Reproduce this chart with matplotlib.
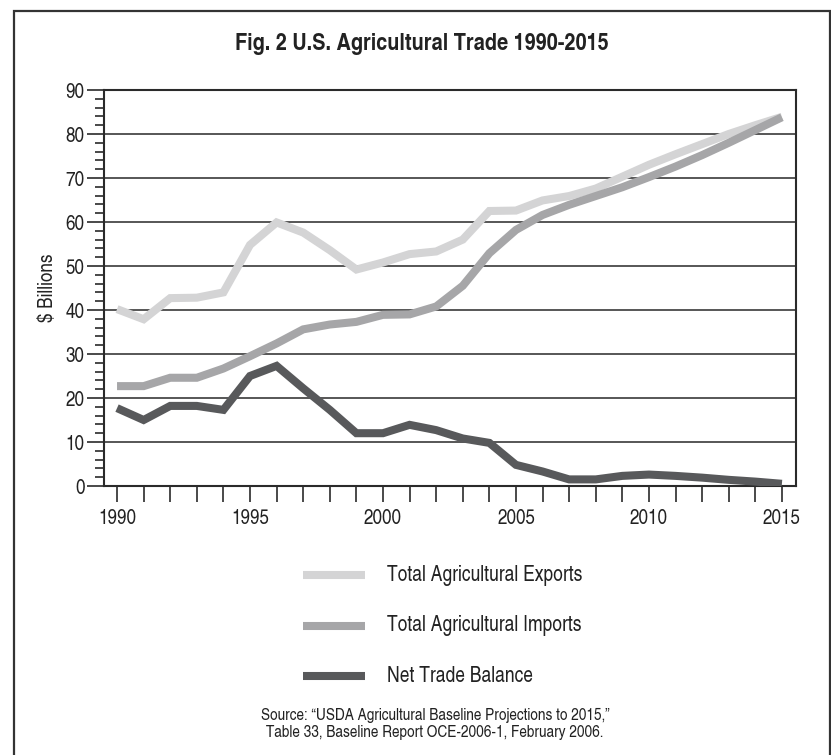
import matplotlib
matplotlib.use("Agg")
import matplotlib.pyplot as plt
from matplotlib.patches import Rectangle
from matplotlib.ticker import MultipleLocator, FixedLocator

plt.rcParams['font.family'] = ['TeX Gyre Heros Cn', 'Roboto Condensed', 'DejaVu Sans']

years = list(range(1990, 2016))
exports = [40.2, 37.9, 42.7, 42.8, 44.0, 54.8, 59.9, 57.6, 53.6, 49.2,
           50.8, 52.7, 53.3, 56.0, 62.5, 62.6, 64.9, 65.9, 67.6, 70.3,
           73.0, 75.4, 77.7, 80.0, 82.0, 83.9]
imports = [22.7, 22.7, 24.6, 24.6, 26.7, 29.5, 32.4, 35.6, 36.7, 37.3,
           38.9, 39.0, 40.8, 45.5, 52.9, 58.2, 61.6, 63.9, 65.9, 67.9,
           70.2, 72.6, 75.2, 78.0, 80.9, 83.8]
net_balance = [17.7, 15.0, 18.2, 18.2, 17.3, 25.0, 27.3, 22.2, 17.3, 12.0,
               12.0, 13.9, 12.7, 10.8, 9.8, 4.8, 3.3, 1.5, 1.5, 2.3,
               2.6, 2.3, 1.9, 1.4, 1.0, 0.5]

series_names = ["Total Agricultural Exports", "Total Agricultural Imports",
                "Net Trade Balance"]
series_colors = ["#d4d4d5", "#a6a6a8", "#58595b"]

title = "Fig. 2 U.S. Agricultural Trade 1990-2015"
source_lines = ["Source: \u201cUSDA Agricultural Baseline Projections to 2015,\u201d",
                "Table 33, Baseline Report OCE-2006-1, February 2006."]

W, H = 831, 755
fig = plt.figure(figsize=(W / 100, H / 100), dpi=100)
fig.patch.set_facecolor("white")

# outer frame around the whole figure (open at the bottom edge)
fig.patches.append(Rectangle((14 / W, -0.02), (830 - 14) / W, 1.02 - 11 / H,
                             transform=fig.transFigure, fill=False,
                             edgecolor="#333333", linewidth=1.6))

ax = fig.add_axes([104 / W, 1 - 486 / H, (796 - 104) / W, (486 - 90) / H])

lw = 5.8
for vals, name, col in zip([exports, imports, net_balance], series_names, series_colors):
    ax.plot(years, vals, color=col, linewidth=lw, solid_capstyle="butt",
            solid_joinstyle="miter", zorder=3, label=name)

ax.set_xlim(1989.51, 2015.53)
ax.set_ylim(0, 90)

ax.yaxis.set_major_locator(MultipleLocator(10))
ax.yaxis.set_minor_locator(MultipleLocator(2))
ax.xaxis.set_major_locator(FixedLocator([1990, 1995, 2000, 2005, 2010, 2015]))
ax.xaxis.set_minor_locator(FixedLocator(years))

ax.grid(axis="y", which="major", color="#3a3a3a", linewidth=1.2, zorder=1)
for s in ax.spines.values():
    s.set_color("#2a2a2a")
    s.set_linewidth(1.5)

ax.tick_params(axis="y", which="major", direction="out", length=12, width=1.2,
               color="#2a2a2a", labelsize=15, pad=2)
ax.tick_params(axis="y", which="minor", direction="out", length=6.5, width=1.2,
               color="#2a2a2a")
ax.tick_params(axis="x", which="both", direction="out", length=11.5, width=1.2,
               color="#2a2a2a", labelsize=15, pad=5)
for lab in ax.get_xticklabels() + ax.get_yticklabels():
    lab.set_color("#222222")

ax.set_ylabel("$ Billions", fontsize=15, color="#222222", labelpad=6)

fig.text(422 / W, 1 - 44 / H, title, ha="center", va="center",
         fontsize=17.5, fontweight="bold", color="#222222")

# legend drawn as short strokes with labels beside them
leg_y = [575, 626, 676]
for yy, name, col in zip(leg_y, series_names, series_colors):
    fig.add_artist(plt.Line2D([303 / W, 365 / W], [1 - yy / H, 1 - yy / H],
                              transform=fig.transFigure, color=col,
                              linewidth=lw, solid_capstyle="butt"))
    fig.text(387 / W, 1 - yy / H, name, ha="left", va="center",
             fontsize=15.3, color="#222222")

fig.text(435 / W, 1 - 715 / H, source_lines[0], ha="center", va="center",
         fontsize=12, color="#222222")
fig.text(435 / W, 1 - 733 / H, source_lines[1], ha="center", va="center",
         fontsize=12, color="#222222")

fig.savefig("out.png", dpi=100, facecolor="white")
